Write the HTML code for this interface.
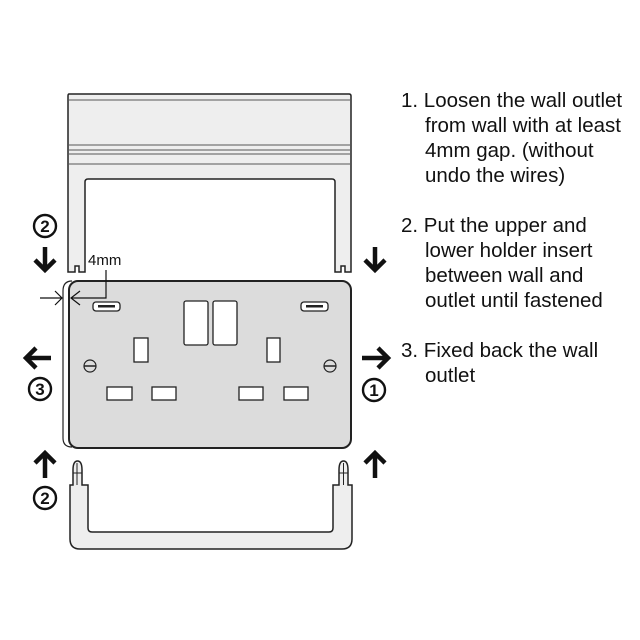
<!DOCTYPE html>
<html><head><style>html,body{margin:0;padding:0;background:#fff}svg{display:block}</style></head>
<body>
<svg width="640" height="640" viewBox="0 0 640 640" xmlns="http://www.w3.org/2000/svg" font-family="Liberation Sans, Arial, sans-serif">
<rect width="640" height="640" fill="#fff"/>
<path d="M69,94 H349 Q351,94 351,96 V272 H345 V266 H341 V272 H335 V182 Q335,179 332,179 H88 Q85,179 85,182 V272 H79 V266 H75 V272 H68 V96 Q68,94 69,94 Z" fill="#eeeeee" stroke="#222" stroke-width="1.5"/>
<g stroke="#555" stroke-width="1"><line x1="68" y1="100" x2="351" y2="100"/><line x1="68" y1="145" x2="351" y2="145"/><line x1="68" y1="150" x2="351" y2="150"/><line x1="68" y1="154" x2="351" y2="154"/><line x1="68" y1="164" x2="351" y2="164"/></g>
<path d="M72,281 Q63,281 63,291 V438 Q63,447 72,447" fill="none" stroke="#222" stroke-width="1.2"/>
<rect x="69" y="281" width="282" height="167" rx="9" fill="#dcdcdc" stroke="#222" stroke-width="2"/>
<g fill="#fff" stroke="#222" stroke-width="1.3">
<rect x="93" y="302" width="27" height="9" rx="3"/><rect x="301" y="302" width="27" height="9" rx="3"/>
<rect x="184" y="301" width="24" height="44" rx="2"/><rect x="213" y="301" width="24" height="44" rx="2"/>
<rect x="134" y="338" width="14" height="24"/><rect x="267" y="338" width="13" height="24"/>
<rect x="107" y="387" width="25" height="13"/><rect x="152" y="387" width="24" height="13"/>
<rect x="239" y="387" width="24" height="13"/><rect x="284" y="387" width="24" height="13"/>
</g>
<g fill="#222"><rect x="98" y="305" width="17" height="2.5"/><rect x="306" y="305" width="17" height="2.5"/></g>
<g fill="none" stroke="#222" stroke-width="1.2"><circle cx="90" cy="366" r="6"/><circle cx="330" cy="366" r="6"/></g>
<g stroke="#222" stroke-width="1.5"><line x1="84" y1="366" x2="96" y2="366"/><line x1="324" y1="366" x2="336" y2="366"/></g>
<text x="88" y="265" font-size="15" fill="#111">4mm</text>
<path d="M106,270 V298 H71" fill="none" stroke="#111" stroke-width="1.2"/>
<path d="M80,291 L71,298 L80,305" fill="none" stroke="#111" stroke-width="1.2"/>
<path d="M40,298 H62 M55,291 L62,298 L55,305" fill="none" stroke="#111" stroke-width="1.2"/>
<path d="M73,485 V470 Q73,461 77.5,461 Q82,461 82,470 V485 H88 V528 Q88,532 92,532 H329 Q333,532 333,528 V485 H339 V470 Q339,461 343.5,461 Q348,461 348,470 V485 H352 V539 Q352,549 342,549 H80 Q70,549 70,539 V485 Z" fill="#eeeeee" stroke="#222" stroke-width="1.5"/>
<g stroke="#222" stroke-width="1"><line x1="73" y1="473" x2="82" y2="473"/><line x1="339" y1="473" x2="348" y2="473"/><line x1="77" y1="463" x2="77" y2="485"/><line x1="343.5" y1="463" x2="343.5" y2="485"/></g>
<g fill="#111" stroke="#111" stroke-width="4.5" stroke-linecap="butt">
<path d="M45,247 V268" fill="none"/><path d="M35,260 L45,270 L55,260" fill="none"/>
<path d="M375,247 V268" fill="none"/><path d="M365,260 L375,270 L385,260" fill="none"/>
<path d="M45,478 V455" fill="none"/><path d="M35,463 L45,453 L55,463" fill="none"/>
<path d="M375,478 V455" fill="none"/><path d="M365,463 L375,453 L385,463" fill="none"/>
<path d="M51,358 H28" fill="none"/><path d="M36,348 L26,358 L36,368" fill="none"/>
<path d="M362,358 H386" fill="none"/><path d="M378,348 L388,358 L378,368" fill="none"/>
</g>
<g fill="none" stroke="#111" stroke-width="2.4"><circle cx="45" cy="226" r="11"/><circle cx="40" cy="389" r="11"/><circle cx="374" cy="390" r="11"/><circle cx="45" cy="498" r="11"/></g>
<g font-size="17" font-weight="bold" text-anchor="middle" fill="#111"><text x="45" y="232">2</text><text x="40" y="395">3</text><text x="374" y="396">1</text><text x="45" y="504">2</text></g>
<g font-size="20.5" fill="#111">
<text x="401" y="107">1. Loosen the wall outlet</text>
<text x="425" y="132">from wall with at least</text>
<text x="425" y="157">4mm gap. (without</text>
<text x="425" y="182">undo the wires)</text>
<text x="401" y="232">2. Put the upper and</text>
<text x="425" y="257">lower holder insert</text>
<text x="425" y="282">between wall and</text>
<text x="425" y="307">outlet until fastened</text>
<text x="401" y="357">3. Fixed back the wall</text>
<text x="425" y="382">outlet</text>
</g>
</svg>
</body></html>
